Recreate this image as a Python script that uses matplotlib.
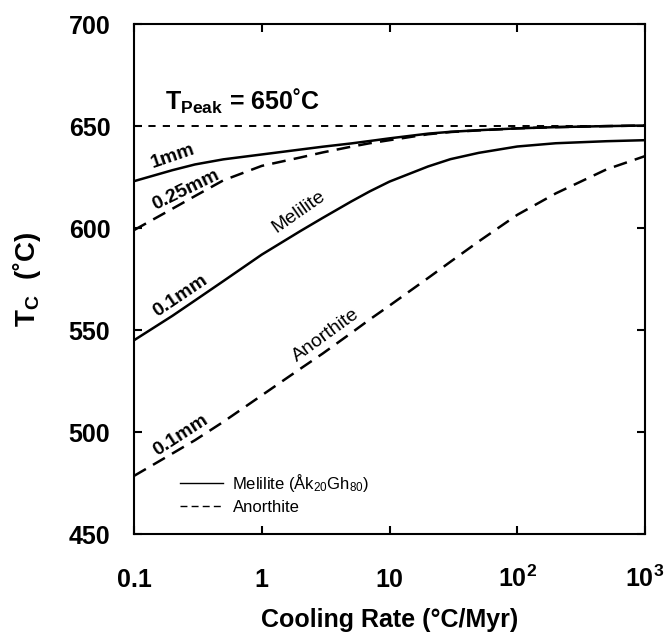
import matplotlib
matplotlib.use("Agg")
import matplotlib.pyplot as plt
from matplotlib.lines import Line2D

plt.rcParams['font.family'] = ['Liberation Sans', 'DejaVu Sans']
plt.rcParams['mathtext.fontset'] = 'custom'
plt.rcParams['mathtext.rm'] = 'Liberation Sans'
plt.rcParams['mathtext.bf'] = 'Liberation Sans:bold'
plt.rcParams['mathtext.it'] = 'Liberation Sans:italic'
plt.rcParams['mathtext.default'] = 'rm'

# cooling rate (°C/Myr)
rate = [0.1, 0.2, 0.3, 0.5, 1, 2, 3, 5, 7, 10, 20, 30, 50, 100, 200, 500, 1000]

# closure temperatures (°C)
mel_1mm = [623.0, 628.4, 631.2, 633.7, 636.1, 638.5, 639.9, 641.5, 642.7, 644.0, 646.3, 647.2, 648.0, 648.9, 649.5, 650.0, 650.3]
mel_01mm = [545.0, 557.0, 564.5, 574.0, 587.0, 598.5, 605.0, 613.0, 618.0, 622.8, 630.2, 633.8, 636.9, 640.0, 641.6, 642.6, 643.1]
an_025mm = [599.0, 609.5, 615.7, 623.4, 630.5, 634.6, 637.1, 639.9, 641.6, 643.1, 646.0, 647.1, 647.9, 648.9, 649.5, 650.0, 650.3]
an_01mm = [478.5, 489.5, 496.0, 505.0, 518.0, 531.0, 538.5, 548.5, 555.2, 562.0, 575.5, 583.5, 593.5, 606.5, 617.0, 628.8, 635.3]

t_peak = 650

xticks = [0.1, 1, 10, 100, 1000]
xticklabels = ['0.1', '1', '10', r'$\mathbf{10^{2}}$', r'$\mathbf{10^{3}}$']
yticks = [450, 500, 550, 600, 650, 700]

fig = plt.figure(figsize=(6.65, 6.35), dpi=100)
ax = fig.add_axes([0.2015, 0.159, 0.7685, 0.803])

ax.plot(rate, mel_1mm, color='k', lw=1.8)
ax.plot(rate, mel_01mm, color='k', lw=1.8)
ax.plot(rate, an_025mm, color='k', lw=1.8, dashes=(5.5, 3.3))
ax.plot(rate, an_01mm, color='k', lw=1.8, dashes=(5.5, 3.3))
ax.axhline(t_peak, color='k', lw=1.4, dashes=(3.7, 3.7))

ax.set_xscale('log')
ax.set_xlim(0.1, 1000)
ax.set_ylim(450, 700)

ax.set_xticks(xticks)
ax.set_xticklabels(xticklabels)
ax.minorticks_off()
ax.set_yticks(yticks)

for s in ax.spines.values():
    s.set_linewidth(1.5)
ax.tick_params(axis='both', direction='in', top=True, right=True, length=5.8, width=1.5, labelsize=18)
ax.tick_params(axis='x', pad=38)
ax.tick_params(axis='y', pad=17)
for lab in ax.get_xticklabels():
    lab.set_fontweight('bold')
    lab.set_va('baseline')
for lab in ax.get_yticklabels():
    lab.set_fontweight('bold')

ax.set_xlabel('Cooling Rate (°C/Myr)', fontsize=18, fontweight='bold')
ax.xaxis.set_label_coords(0.5, -0.146)
ax.set_ylabel(r'$\mathbf{T_C}$  (˚C)', fontsize=20, fontweight='bold')
ax.yaxis.set_label_coords(-0.178, 0.5)

# curve labels
ax.text(0.175, 657.8, r'$\mathbf{T_{Peak}}$ = 650˚C', fontsize=18, fontweight='bold', ha='left', va='baseline')
ax.text(0.202, 635.4, '1mm', fontsize=14, fontweight='bold', rotation=19, ha='center', va='center')
ax.text(0.257, 618.6, '0.25mm', fontsize=14, fontweight='bold', rotation=26, ha='center', va='center')
ax.text(0.232, 566.8, '0.1mm', fontsize=14, fontweight='bold', rotation=34, ha='center', va='center')
ax.text(0.232, 498.2, '0.1mm', fontsize=14, fontweight='bold', rotation=33, ha='center', va='center')
ax.text(1.96, 608.0, 'Melilite', fontsize=14, rotation=35, ha='center', va='center')
ax.text(3.16, 547.2, 'Anorthite', fontsize=14, rotation=36, ha='center', va='center')

handles = [Line2D([], [], color='k', lw=1.0),
           Line2D([], [], color='k', lw=1.0, dashes=(5, 3))]
ax.legend(handles, ['Melilite (Åk$_{20}$Gh$_{80}$)', 'Anorthite'],
          loc='lower left', bbox_to_anchor=(0.09, 0.038), frameon=False,
          fontsize=12, borderpad=0, borderaxespad=0, handlelength=2.6,
          handletextpad=0.55, labelspacing=0.35)

fig.savefig('out.png', dpi=100)
